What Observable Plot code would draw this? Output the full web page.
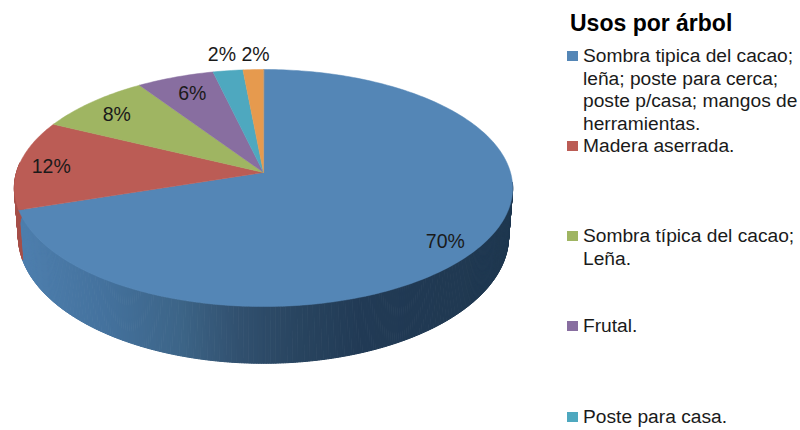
<!DOCTYPE html>
<html lang="es">
<head>
<meta charset="utf-8">
<script src="https://cdn.jsdelivr.net/npm/d3@7"></script>
<script src="https://cdn.jsdelivr.net/npm/@observablehq/plot@0.6"></script>
<style>
  html, body { margin: 0; padding: 0; background: #fff; }
  #page { position: relative; width: 800px; height: 430px; overflow: hidden; font-family: "Liberation Sans", Arial, sans-serif; color: #1a1a1a; }
  #chart { position: absolute; left: 0; top: 0; }
  #chart svg { display: block; }
  #title { position: absolute; left: 570px; top: 9px; font-size: 23px; font-weight: bold; color: #000; line-height: 28px; white-space: nowrap; }
  .item { position: absolute; left: 583px; font-size: 19.2px; line-height: 22.5px; white-space: nowrap; }
  .swatch { position: absolute; left: 567px; width: 11px; height: 10px; }
</style>
</head>
<body>
<div id="page"><div id="chart"></div><div id="title"></div></div>
<script>
// Data
const shares = [70, 12.2, 8.4, 5.7, 2.2, 1.5];
const sliceColors = ["#5486b6", "#bb5c55", "#9fb562", "#886ea0", "#4ea8bf", "#e69a4e"];
const legendTitle = "Usos por árbol";
const legendLines = [
  ["Sombra tipica del cacao;", "leña; poste para cerca;", "poste p/casa; mangos de", "herramientas."],
  ["Madera aserrada."],
  ["Sombra típica del cacao;", "Leña."],
  ["Frutal."],
  ["Poste para casa."]
];

// Layout
const legendTops = [45, 135, 225, 315, 406];
const labelReach = [[.84, .93], [.869, .75], [.855, .824], [.807, .83], [1.17, 1.159], [.78, 1.147]];
const cx = 263, cy = 172, rx = 247, ry = 116.5;
const tilt = 0.131;
const rad = Math.PI / 180;

const rim = (t) => {
  const d = 1 + tilt * Math.cos(t);
  return [Math.sin(t) / d, -Math.cos(t) / d];
};
const floorRim = (t) => {
  const [x, y] = rim(t);
  return [x * 0.984, y * 1.073 + 0.403];
};

const arcs = d3.pie().sort(null).value((d) => d)(shares);

// Top face: one polygon per slice
const face = arcs.flatMap((a, i) => {
  const steps = Math.max(4, Math.ceil((a.endAngle - a.startAngle) / rad));
  const pts = [{ i, x: 0, y: 0 }];
  for (let s = 0; s <= steps; ++s) {
    const [x, y] = rim(a.startAngle + (a.endAngle - a.startAngle) * s / steps);
    pts.push({ i, x, y });
  }
  return pts;
});

// Side wall: narrow bands along the visible front of the pie
const shade = d3.scaleLinear()
  .domain([-1, -0.66, -0.33, -0.1, 0.15, 0.4, 1])
  .range(["#4e7fae", "#44729e", "#3c6487", "#31506f", "#28445f", "#213a55", "#1f3850"]);
const visibleFrom = 95 * rad, visibleTo = 275 * rad, bandStep = 0.5 * rad;
const wall = [];
let band = 0;
arcs.slice(0, 2).forEach((a, i) => {
  const from = Math.max(a.startAngle, visibleFrom), to = Math.min(a.endAngle, visibleTo);
  for (let t = from; t < to; t += bandStep) {
    const next = Math.min(t + bandStep, to);
    const fill = i === 0 ? shade(rim(t)[0]) : "#a64f49";
    [rim(t), rim(next), floorRim(next), floorRim(t)].forEach(([x, y]) => wall.push({ band, fill, x, y }));
    band++;
  }
});

// Percentage labels
const labels = arcs.map((a, i) => {
  const [x, y] = rim((a.startAngle + a.endAngle) / 2);
  return { x: x * labelReach[i][0], y: y * labelReach[i][1], text: Math.round(a.value) + "%" };
});

const chart = Plot.plot({
  width: 800,
  height: 430,
  margin: 0,
  x: { domain: [-1, 1], range: [cx - rx, cx + rx], axis: null },
  y: { domain: [-1, 1], range: [cy - ry, cy + ry], axis: null },
  color: { type: "identity" },
  style: { background: "transparent" },
  marks: [
    Plot.line(wall, { x: "x", y: "y", z: "band", fill: "fill", stroke: "fill", strokeWidth: 1, curve: "linear-closed" }),
    Plot.line(face, { x: "x", y: "y", z: "i", fill: (d) => sliceColors[d.i], stroke: (d) => sliceColors[d.i], strokeWidth: 0.5, curve: "linear-closed" }),
    Plot.text(labels, { x: "x", y: "y", text: "text", fontSize: 19.5, fill: "#1a1a1a", fontFamily: "Liberation Sans, Arial, sans-serif", lineAnchor: "middle" })
  ]
});
document.getElementById("chart").appendChild(chart);

// Legend beside the plot
const page = document.getElementById("page");
document.getElementById("title").textContent = legendTitle;
legendLines.forEach((lines, i) => {
  const sw = document.createElement("div");
  sw.className = "swatch";
  sw.style.top = (legendTops[i] + 6) + "px";
  sw.style.background = sliceColors[i];
  page.appendChild(sw);
  const el = document.createElement("div");
  el.className = "item";
  el.style.top = legendTops[i] + "px";
  el.innerHTML = lines.join("<br>");
  page.appendChild(el);
});
</script>
</body>
</html>
